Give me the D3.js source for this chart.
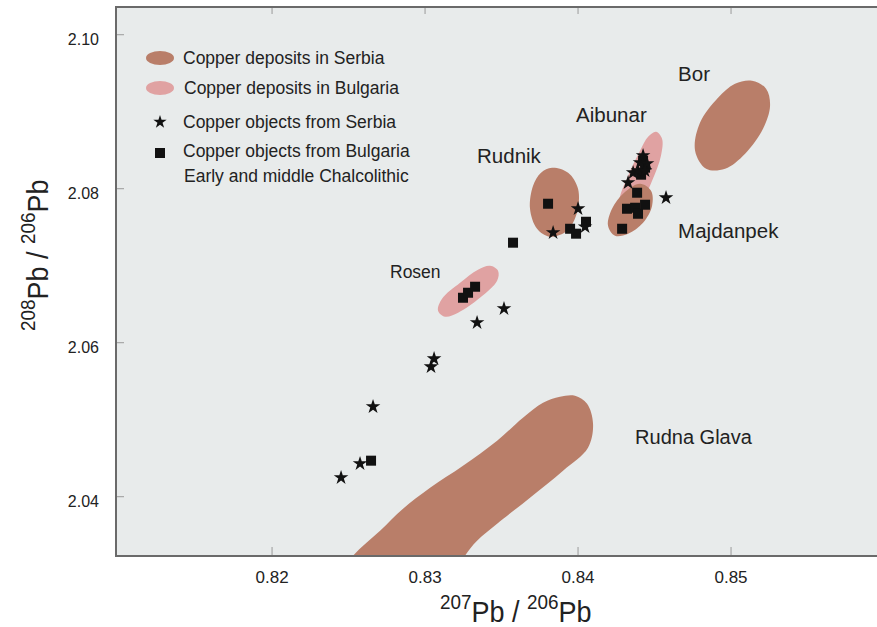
<!DOCTYPE html>
<html>
<head>
<meta charset="utf-8">
<script src="https://cdn.jsdelivr.net/npm/d3@7"></script>
<style>
	body { margin: 0; background: #fff; }
	svg text { font-family: "Liberation Sans", Arial, sans-serif; fill: #222; }
</style>
</head>
<body>
<svg id="chart_svg"></svg>
<script>
const SVG_WIDTH = 877;
const SVG_HEIGHT = 627;

// axis ticks
const x_ticks = [0.82, 0.83, 0.84, 0.85];
const y_ticks = [2.04, 2.06, 2.08, 2.10];

// ore field outlines as [207Pb/206Pb, 208Pb/206Pb]
const bulgaria_fields = [
	{name: 'Aibunar', outline: [[0.8451, 2.0874], [0.84549, 2.08649], [0.84542, 2.08429], [0.84484, 2.08104], [0.84405, 2.07779], [0.84327, 2.0761],
		[0.84275, 2.07649], [0.84268, 2.07844], [0.84327, 2.08169], [0.84405, 2.08494], [0.84458, 2.08675]]},
	{name: 'Rosen', outline: [[0.83425, 2.07], [0.83477, 2.06935], [0.83471, 2.06805], [0.83359, 2.06584], [0.83216, 2.0639], [0.83131, 2.06338],
		[0.83085, 2.06416], [0.83111, 2.06571], [0.83229, 2.06779], [0.83346, 2.06948]]}
];

const serbia_fields = [
	{name: 'Bor', outline: [[0.85137, 2.09403], [0.85229, 2.09299], [0.85255, 2.09078], [0.85209, 2.08779], [0.85092, 2.08455], [0.84961, 2.0826],
		[0.84837, 2.0826], [0.84765, 2.08494], [0.84797, 2.08857], [0.84915, 2.09182], [0.85026, 2.09364]]},
	{name: 'Rudnik', outline: [[0.8383, 2.08273], [0.83935, 2.08208], [0.84, 2.08], [0.83993, 2.07688], [0.83928, 2.07455], [0.83817, 2.07377],
		[0.83732, 2.07481], [0.83686, 2.0774], [0.83706, 2.08039], [0.83758, 2.08208]]},
	{name: 'Majdanpek', outline: [[0.84405, 2.08065], [0.84477, 2.07974], [0.84484, 2.07779], [0.84425, 2.07558], [0.84327, 2.07416], [0.84242, 2.0739],
		[0.84196, 2.0752], [0.84222, 2.0774], [0.84301, 2.07948]]},
	{name: 'Rudna Glava', outline: [[0.8398, 2.05312], [0.84059, 2.05208], [0.84098, 2.04948], [0.84065, 2.04636], [0.83902, 2.04338], [0.83686, 2.03987],
		[0.83471, 2.03649], [0.8334, 2.03429], [0.83261, 2.03234], [0.83176, 2.02909], [0.82412, 2.02909], [0.82529, 2.03234],
		[0.82706, 2.03558], [0.82856, 2.03844], [0.83033, 2.04117], [0.83248, 2.04403], [0.83471, 2.04727], [0.8364, 2.05026],
		[0.83771, 2.05221], [0.83882, 2.05299]]}
];

// copper objects from Serbia (stars)
const serbia_objects = [
	[0.82451, 2.04247], [0.82575, 2.04429], [0.8266, 2.05169], [0.83039, 2.05688], [0.83059, 2.05792], [0.8334, 2.0626],
	[0.83516, 2.06442], [0.83837, 2.07429], [0.84, 2.0774], [0.84046, 2.07506], [0.84327, 2.08078], [0.8436, 2.08208],
	[0.84392, 2.08234], [0.84405, 2.08338], [0.84425, 2.08429], [0.84451, 2.08325], [0.84438, 2.08234], [0.84575, 2.07883]
];

// copper objects from Bulgaria (squares)
const bulgaria_objects = [
	[0.82647, 2.04468], [0.83248, 2.06584], [0.83281, 2.06649], [0.83327, 2.06727], [0.83575, 2.07299], [0.83804, 2.07805],
	[0.83948, 2.0748], [0.83987, 2.07416], [0.84052, 2.07571], [0.84288, 2.0748], [0.8432, 2.0774], [0.84373, 2.07753],
	[0.84392, 2.07675], [0.84438, 2.07792], [0.84386, 2.07948], [0.84425, 2.08364], [0.84438, 2.08273], [0.84412, 2.08182]
];

// field name labels: [text, x value, y value, font size]
const field_labels = [
	['Bor', 0.84654, 2.09403, 20.5],
	['Aibunar', 0.83987, 2.0887, 20.5],
	['Rudnik', 0.8334, 2.08338, 20.5],
	['Majdanpek', 0.84654, 2.07364, 20.5],
	['Rosen', 0.82771, 2.06844, 17.5],
	['Rudna Glava', 0.84373, 2.04688, 20]
];

const legend_items = [
	'Copper deposits in Serbia',
	'Copper deposits in Bulgaria',
	'Copper objects from Serbia',
	'Copper objects from Bulgaria',
	'Early and middle Chalcolithic'
];

const SERBIA_COLOR = '#b97e69';
const BULGARIA_COLOR = '#e0a2a2';

const init = () => {
	const svg = d3.select('#chart_svg')
		.attr('width', SVG_WIDTH)
		.attr('height', SVG_HEIGHT);

	const plot = {left: 116, right: 877, top: 7, bottom: 556};

	const x = d3.scaleLinear()
		.domain([0.8098, 0.85954])
		.range([plot.left, plot.right]);

	const y = d3.scaleLinear()
		.domain([2.0323, 2.1036])
		.range([plot.bottom, plot.top]);

	svg.append('defs').append('clipPath')
		.attr('id', 'plot_clip')
		.append('rect')
		.attr('x', plot.left)
		.attr('y', plot.top)
		.attr('width', plot.right - plot.left)
		.attr('height', plot.bottom - plot.top);

	svg.append('rect')
		.attr('x', plot.left)
		.attr('y', plot.top)
		.attr('width', plot.right - plot.left)
		.attr('height', plot.bottom - plot.top)
		.attr('fill', '#e8ebeb');

	// inner ticks
	const ticks = svg.append('g').attr('stroke', '#9a9a9a').attr('stroke-width', 1);
	ticks.selectAll('.tb')
		.data(x_ticks)
		.enter().append('line')
		.attr('x1', d => x(d)).attr('x2', d => x(d))
		.attr('y1', plot.bottom).attr('y2', plot.bottom - 9);
	ticks.selectAll('.tt')
		.data(x_ticks)
		.enter().append('line')
		.attr('x1', d => x(d)).attr('x2', d => x(d))
		.attr('y1', plot.top).attr('y2', plot.top + 7);
	ticks.selectAll('.tl')
		.data(y_ticks)
		.enter().append('line')
		.attr('x1', plot.left).attr('x2', plot.left + 8)
		.attr('y1', d => y(d)).attr('y2', d => y(d));

	const line = d3.line()
		.x(d => x(d[0]))
		.y(d => y(d[1]))
		.curve(d3.curveCatmullRomClosed.alpha(0.5));

	const fields = svg.append('g').attr('clip-path', 'url(#plot_clip)');

	fields.selectAll('.bg_field')
		.data(bulgaria_fields)
		.enter().append('path')
		.attr('class', 'bg_field')
		.attr('d', d => line(d.outline))
		.attr('fill', BULGARIA_COLOR);

	fields.selectAll('.rs_field')
		.data(serbia_fields)
		.enter().append('path')
		.attr('class', 'rs_field')
		.attr('d', d => line(d.outline))
		.attr('fill', SERBIA_COLOR);

	svg.selectAll('.field_label')
		.data(field_labels)
		.enter().append('text')
		.attr('class', 'field_label')
		.attr('x', d => x(d[1]))
		.attr('y', d => y(d[2]))
		.attr('font-size', d => d[3])
		.text(d => d[0]);

	svg.append('g')
		.selectAll('rect')
		.data(bulgaria_objects)
		.enter().append('rect')
		.attr('x', d => x(d[0]) - 5)
		.attr('y', d => y(d[1]) - 5)
		.attr('width', 10)
		.attr('height', 10)
		.attr('fill', '#111');

	const star = d3.symbol().type(d3.symbolStar).size(66);
	svg.append('g')
		.selectAll('path')
		.data(serbia_objects)
		.enter().append('path')
		.attr('d', star)
		.attr('transform', d => `translate(${x(d[0])},${y(d[1])})`)
		.attr('fill', '#111');

	// frame
	svg.append('path')
		.attr('d', `M${plot.right},${plot.top}H${plot.left}V${plot.bottom}H${plot.right}`)
		.attr('fill', 'none')
		.attr('stroke', '#6a6a6a')
		.attr('stroke-width', 2);

	// tick labels
	svg.selectAll('.xlab')
		.data(x_ticks)
		.enter().append('text')
		.attr('x', d => x(d))
		.attr('y', 583)
		.attr('text-anchor', 'middle')
		.attr('font-size', 17)
		.text(d => d.toFixed(2));

	svg.selectAll('.ylab')
		.data(y_ticks)
		.enter().append('text')
		.attr('x', 99)
		.attr('y', d => y(d) + 10)
		.attr('text-anchor', 'end')
		.attr('font-size', 16)
		.text(d => d.toFixed(2));

	// axis titles, squeezed a little to look like the narrow original face
	const addTitle = (sel, top) => {
		sel.append('tspan').attr('font-size', 21).attr('dy', -13).text(top);
		sel.append('tspan').attr('dy', 13).text('Pb');
		sel.append('tspan').text(' / ');
		sel.append('tspan').attr('font-size', 21).attr('dy', -13).text('206');
		sel.append('tspan').attr('dy', 13).text('Pb');
	};

	addTitle(svg.append('text')
		.attr('transform', 'translate(440,622) scale(0.9,1)')
		.attr('font-size', 30), '207');

	addTitle(svg.append('text')
		.attr('transform', 'translate(48,331) rotate(-90) scale(0.9,1)')
		.attr('font-size', 30), '208');

	// legend
	const legend = svg.append('g');
	legend.append('ellipse').attr('cx', 160).attr('cy', 58).attr('rx', 14).attr('ry', 7).attr('fill', SERBIA_COLOR);
	legend.append('ellipse').attr('cx', 160).attr('cy', 88).attr('rx', 14).attr('ry', 7).attr('fill', BULGARIA_COLOR);
	legend.append('path').attr('d', d3.symbol().type(d3.symbolStar).size(55)).attr('transform', 'translate(160,122)').attr('fill', '#111');
	legend.append('rect').attr('x', 155).attr('y', 148).attr('width', 10).attr('height', 10).attr('fill', '#111');

	const legend_pos = [[183, 64], [184, 94], [183, 128], [183, 157], [184, 182]];
	legend.selectAll('text')
		.data(legend_items)
		.enter().append('text')
		.attr('x', (d, i) => legend_pos[i][0])
		.attr('y', (d, i) => legend_pos[i][1])
		.attr('font-size', 17.5)
		.text(d => d);
};

window.onload = () => {
	init();
};
</script>
</body>
</html>
